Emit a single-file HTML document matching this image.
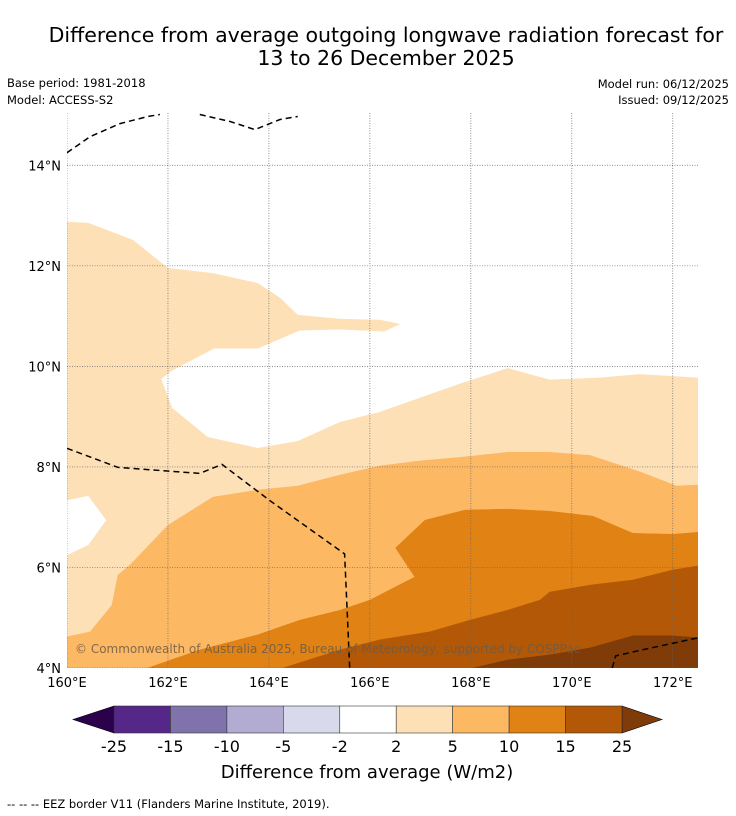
<!DOCTYPE html>
<html><head><meta charset="utf-8"><style>
html,body{margin:0;padding:0;background:#fff;width:736px;height:816px;overflow:hidden}
svg{display:block;font-family:"DejaVu Sans","Liberation Sans",sans-serif}
</style></head><body>
<svg id="chart" width="736" height="816" viewBox="0 0 736 816">
<text x="386" y="42" font-size="20.5" text-anchor="middle">Difference from average outgoing longwave radiation forecast for</text>
<text x="386" y="65" font-size="20.5" text-anchor="middle">13 to 26 December 2025</text>
<text x="7" y="87" font-size="11.5">Base period: 1981-2018</text>
<text x="7" y="104" font-size="11.5">Model: ACCESS-S2</text>
<text x="729" y="88" font-size="11.5" text-anchor="end">Model run: 06/12/2025</text>
<text x="729" y="104" font-size="11.5" text-anchor="end">Issued: 09/12/2025</text>
<g id="map"></g>
<g id="axes"></g>
<g id="cbar"></g>
<text x="367" y="778" font-size="18" text-anchor="middle">Difference from average (W/m2)</text>
<text x="7" y="808" font-size="11.5">--  --  -- EEZ border V11 (Flanders Marine Institute, 2019).</text>
</svg>
<script>
const lonTicks=[160,162,164,166,168,170,172];
const latTicks=[4,6,8,10,12,14];
const cbLevels=["-25","-15","-10","-5","-2","2","5","10","15","25"];
const cbColors=["#542788","#8073ac","#b2abd2","#d8daeb","#ffffff","#fee0b6","#fdb863","#e08214","#b35806"];
const cbLow="#2d004b", cbHigh="#7f3b08";
// contour regions in [lon,lat]
const lightRegion=[[160,12.87],[160.42,12.85],[161.31,12.51],[162,11.95],[162.89,11.85],[163.78,11.65],[164.22,11.36],[164.57,11.02],[165.41,10.94],[166.2,10.92],[166.59,10.84],[166.28,10.70],[165.41,10.74],[164.61,10.72],[163.78,10.36],[162.91,10.36],[162.08,9.92],[161.86,9.75],[162.08,9.17],[162.79,8.59],[163.78,8.37],[164.57,8.51],[165.41,8.89],[166.2,9.09],[166.99,9.37],[167.78,9.65],[168.73,9.96],[169.56,9.73],[170.55,9.77],[171.35,9.84],[172.5,9.77],[172.5,4],[160,4]];
const whiteLeft=[[160,7.33],[160.42,7.42],[160.77,6.94],[160.42,6.45],[160,6.25]];
const midRegion=[[160,4.62],[160.46,4.72],[160.89,5.25],[161.01,5.85],[161.25,6.05],[162,6.84],[162.89,7.40],[163.78,7.54],[164.57,7.62],[165.41,7.84],[166.2,8.02],[166.99,8.12],[167.78,8.19],[168.73,8.29],[169.56,8.29],[170.36,8.23],[170.75,8.10],[171.35,7.90],[172.08,7.62],[172.5,7.64],[172.5,4],[160,4]];
const darkRegion=[[161.6,4],[162.63,4.36],[163.78,4.66],[164.61,4.95],[165.41,5.15],[166,5.35],[166.89,5.81],[166.51,6.39],[167.09,6.94],[167.88,7.14],[168.73,7.16],[169.56,7.12],[170.42,7.02],[171.21,6.68],[172,6.66],[172.5,6.70],[172.5,4]];
const brownRegion=[[164.28,4],[165.41,4.36],[166.2,4.56],[167.19,4.72],[167.98,4.95],[168.73,5.15],[169.37,5.35],[169.56,5.51],[170.36,5.65],[171.21,5.75],[172,5.95],[172.5,6.03],[172.5,4]];
const darkestRegion=[[168.04,4],[168.73,4.16],[169.56,4.26],[170.36,4.40],[171.21,4.64],[172,4.64],[172.5,4.60],[172.5,4]];
const eezA=[[160,14.25],[160.46,14.57],[161.05,14.83],[161.6,14.97],[161.84,15.01]];
const eezB=[[162.63,15.01],[163.23,14.87],[163.72,14.71],[164.22,14.91],[164.57,14.97]];
const eezC=[[160,8.37],[161.01,7.99],[162.63,7.87],[163.07,8.05],[164.02,7.33],[165.5,6.27],[165.6,4]];
const eezD=[[170.8,4],[170.87,4.24],[171.39,4.36],[172.5,4.60]];
const LON0=160,LON1=172.5,LAT0=4,LAT1=15.04;
const X0=67,X1=698,Y0=668,Y1=113;
const sx=lon=>X0+(lon-LON0)*(X1-X0)/(LON1-LON0);
const sy=lat=>Y0-(lat-LAT0)*(Y0-Y1)/(LAT1-LAT0);
const NS="http://www.w3.org/2000/svg";
function mk(tag,attrs,parent){const e=document.createElementNS(NS,tag);for(const k in attrs)e.setAttribute(k,attrs[k]);parent.appendChild(e);return e;}
const map=document.getElementById('map'),axes=document.getElementById('axes'),cb=document.getElementById('cbar');
const pts=a=>a.map(p=>sx(p[0]).toFixed(1)+','+sy(p[1]).toFixed(1)).join(' ');
const clip=mk('clipPath',{id:'mc'},mk('defs',{},map));
mk('rect',{x:X0,y:Y1,width:X1-X0,height:Y0-Y1},clip);
const g=mk('g',{'clip-path':'url(#mc)'},map);
let r=mk('rect',{x:X0,y:Y1,width:X1-X0,height:Y0-Y1,fill:'#fff'},g);

const regions=[[lightRegion,'#fee0b6','contour-2-5'],[whiteLeft,'#ffffff','contour-white-left'],[midRegion,'#fdb863','contour-5-10'],[darkRegion,'#e08214','contour-10-15'],[brownRegion,'#b35806','contour-15-25'],[darkestRegion,'#7f3b08','contour-over-25']];
regions.forEach(([d,c,n])=>{const p=mk('polygon',{points:pts(d),fill:c,stroke:c,'stroke-width':0.5},g);

});
lonTicks.forEach(l=>{const e=mk('line',{x1:sx(l),x2:sx(l),y1:Y1,y2:Y0,stroke:'#666','stroke-width':0.7,'stroke-dasharray':'1,1.5'},g);


const t=mk('text',{x:sx(l),y:Y0+19,'font-size':13,'text-anchor':'middle'},axes);t.textContent=l+'°E';

});
latTicks.forEach(l=>{const e=mk('line',{x1:X0,x2:X1,y1:sy(l),y2:sy(l),stroke:'#666','stroke-width':0.7,'stroke-dasharray':'1,1.5'},g);


const t=mk('text',{x:X0-6,y:sy(l)+5,'font-size':13,'text-anchor':'end'},axes);t.textContent=l+'°N';

});
[eezA,eezB,eezC,eezD].forEach(d=>{const e=mk('polyline',{points:pts(d),fill:'none',stroke:'#000','stroke-width':1.5,'stroke-dasharray':'6,4'},g);

});
const cp=mk('text',{x:75,y:653,'font-size':12,fill:'#6e5a44','fill-opacity':0.85},g);cp.textContent='© Commonwealth of Australia 2025, Bureau of Meteorology, supported by COSPPac';


// colorbar
const CB0=114,CB1=622,CBT=706,CBB=733,w=(CB1-CB0)/cbColors.length;
let lt=mk('polygon',{points:`${CB0},${CBT} ${CB0},${CBB} 73,${(CBT+CBB)/2}`,fill:cbLow,stroke:'#000','stroke-width':0.6},cb);

let rt=mk('polygon',{points:`${CB1},${CBT} ${CB1},${CBB} 662,${(CBT+CBB)/2}`,fill:cbHigh,stroke:'#000','stroke-width':0.6},cb);

cbColors.forEach((c,i)=>{const e=mk('rect',{x:CB0+i*w,y:CBT,width:w,height:CBB-CBT,fill:c,stroke:'#333','stroke-width':0.6},cb);

});
cbLevels.forEach((s,i)=>{const t=mk('text',{x:CB0+i*w,y:752,'font-size':16,'text-anchor':'middle'},cb);t.textContent=s;

});
</script>
</body></html>
